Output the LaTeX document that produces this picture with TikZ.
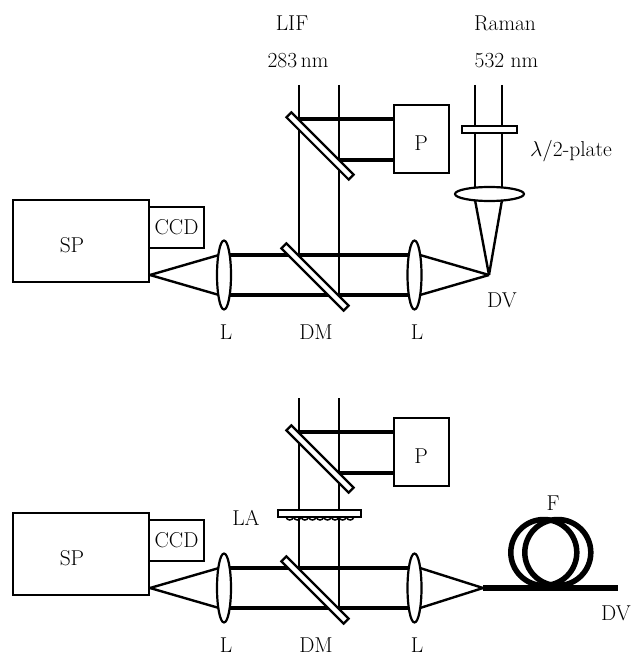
\RequirePackage{fix-cm}
\documentclass[tikz,border=0pt]{standalone}
\usepackage{tikz}
\usetikzlibrary{shapes.geometric, positioning}

\begin{document}
\begin{tikzpicture}[
    x=1pt, y=-1pt,
    every node/.style={font=\fontsize{21.5}{24}\selectfont},
    label/.style={inner sep=0pt},
    box/.style={rectangle, draw, line width=2.2pt, fill=white, inner sep=0pt},
    lens/.style={ellipse, draw, line width=2.2pt, fill=white, inner sep=0pt},
    mirror/.style={rectangle, draw, line width=2.2pt, fill=white, inner sep=0pt, minimum width=88pt, minimum height=7pt, rotate=-45},
    plate/.style={rectangle, draw, line width=2.2pt, fill=white, inner sep=0pt},
    ray/.style={line width=2.2pt},
    beam/.style={line width=3.2pt},
    cone/.style={line width=2.4pt},
]
    \useasboundingbox (0,0) rectangle (631,655);

    % Both set-ups share spectrometer, lenses and mirrors
    \foreach \s/\oy in {a/0, b/313} {
        \coordinate (in1\s) at (299, 85+\oy);
        \coordinate (in2\s) at (339, 85+\oy);
        \coordinate (b1l\s) at (224, 255+\oy);
        \coordinate (b2l\s) at (224, 295+\oy);
        \coordinate (b1r\s) at (414, 255+\oy);
        \coordinate (b2r\s) at (414, 295+\oy);
        \coordinate (v1\s) at (299, 255+\oy);
        \coordinate (v2\s) at (339, 295+\oy);
        \coordinate (t1\s) at (299, 119+\oy);
        \coordinate (t2\s) at (339, 160+\oy);
        \coordinate (slit\s) at (150, 275+\oy);
        \coordinate (cl1\s) at (219, 255+\oy);
        \coordinate (cl2\s) at (219, 295+\oy);
        \coordinate (cr1\s) at (420, 255+\oy);
        \coordinate (cr2\s) at (420, 295+\oy);

        % Beams
        \draw[ray] (in1\s) -- (v1\s);
        \draw[ray] (in2\s) -- (v2\s);
        \draw[beam] (b1l\s) -- (b1r\s);
        \draw[beam] (b2l\s) -- (b2r\s);
        \draw[cone] (slit\s) -- (cl1\s);
        \draw[cone] (slit\s) -- (cl2\s);

        % Detector
        \node[box, minimum width=136pt, minimum height=82pt] (sp\s) at (81, 241+\oy) {};
        \node[label] (splabel\s) at (72, 245+\oy) {SP};
        \node[box, minimum width=55pt, minimum height=41pt] (ccd\s) at (176.5, 227.5+\oy) {CCD};

        % Pump branch
        \node[box, minimum width=55pt, minimum height=68pt] (p\s) at (421.5, 139+\oy) {};
        \node[label] (plabel\s) at (421, 143.5+\oy) {P};
        \draw[beam] (t1\s) -- (t1\s -| p\s.west);
        \draw[beam] (t2\s) -- (t2\s -| p\s.west);
        \node[mirror] (m1\s) at (320, 146+\oy) {};
        \node[mirror] (m2\s) at (315, 277+\oy) {};

        % Lenses
        \node[lens, minimum width=14pt, minimum height=69pt] (l1\s) at (224, 275+\oy) {};
        \node[lens, minimum width=14pt, minimum height=69pt] (l2\s) at (414.5, 275+\oy) {};

        % Labels below
        \node[label] (l1text\s) at (226, 332.5+\oy) {L};
        \node[label] (dmtext\s) at (316, 332.5+\oy) {DM};
        \node[label] (l2text\s) at (417, 332.5+\oy) {L};
    }

    % Raman branch
    \coordinate (ra1) at (475, 85);
    \coordinate (ra2) at (502, 85);
    \coordinate (fo1) at (475, 200);
    \coordinate (fo2) at (502, 200);
    \coordinate (dva) at (489, 275);
    \draw[ray] (ra1) -- (fo1);
    \draw[ray] (ra2) -- (fo2);
    \node[plate, minimum width=55pt, minimum height=7pt] (wp) at (489.5, 129.5) {};
    \node[lens, minimum width=69pt, minimum height=14pt] (l3) at (489.5, 194) {};
    \draw[cone] (fo1) -- (dva);
    \draw[cone] (fo2) -- (dva);
    \draw[cone] (cr1a) -- (dva);
    \draw[cone] (cr2a) -- (dva);

    \node[label] (lif) at (292, 23) {LIF};
    \node[label] (lifnm) at (298, 61) {283\,nm};
    \node[label] (raman) at (505, 23) {Raman};
    \node[label] (ramnm) at (506.5, 61) {532 nm};
    \node[label] (wptext) at (571, 151) {$\lambda/2$-plate};
    \node[label] (dvtext) at (502, 300) {DV};

    % Lens array
    \node[plate, minimum width=83pt, minimum height=7pt] (la) at (319.5, 513.5) {};
    \foreach \x in {0,...,8} {
        \draw[line width=1.5pt] ({286+\x*7.55},517) .. controls ({287+\x*7.55},521) and ({292.5+\x*7.55},521) .. ({293.55+\x*7.55},517);
    }
    \node[label] (latext) at (246, 518) {LA};

    % Fibre
    \coordinate (fs) at (483, 588);
    \coordinate (fe) at (618, 588);
    \draw[cone] (cr1b) -- (fs);
    \draw[cone] (cr2b) -- (fs);
    \node[circle, draw, line width=5.5pt, minimum size=66pt, inner sep=0pt] (c1) at (543.8, 552.5) {};
    \node[circle, draw, line width=5.5pt, minimum size=66pt, inner sep=0pt] (c2) at (557.8, 552.5) {};
    \draw[line width=5.7pt] (fs) -- (fe);
    \node[label] (ftext) at (553, 503) {F};
    \node[label] (dvfib) at (616, 613) {DV};
\end{tikzpicture}
\end{document}
